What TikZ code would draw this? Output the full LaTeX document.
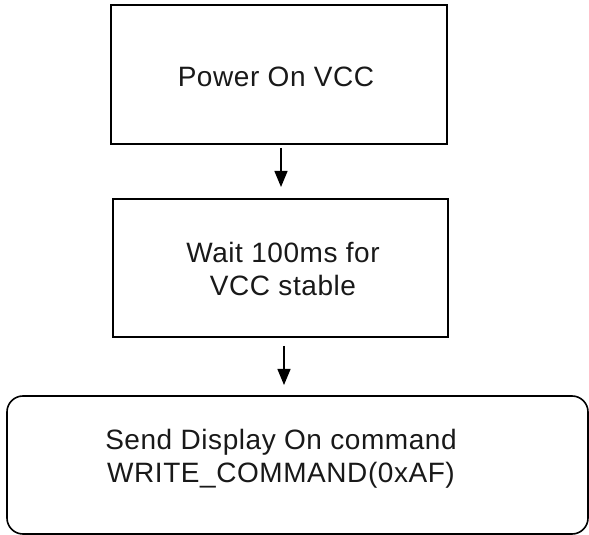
\documentclass[tikz,border=0pt]{standalone}
\usepackage{fontspec}
\setmainfont{Liberation Sans}[LetterSpace=2]
\usetikzlibrary{arrows.meta}
\begin{document}
\begin{tikzpicture}[x=1pt,y=1pt,
  flowbox/.style={draw=black, line width=1.6pt, minimum width=336pt, minimum height=139pt, inner sep=0pt},
  roundbox/.style={draw=black, line width=1.6pt, rounded corners=16pt, minimum width=581pt, minimum height=138pt, inner sep=0pt},
  boxtext/.style={font=\fontsize{28}{33}\selectfont, align=center, inner sep=0pt, text=black!90},
  flowarrow/.style={line width=1.3pt, -{Triangle[length=16pt,width=13pt]}}]
\useasboundingbox (0,0) rectangle (589,535);
\node[flowbox] (b1) at (279,460.5) {};
\node[boxtext] (t1) at (276,458) {Power On VCC};
\node[flowbox, minimum width=335pt, minimum height=138pt] (b2) at (280.5,267) {};
\node[boxtext] (t2) at (283,266) {Wait 100ms for\\VCC stable};
\node[roundbox] (b3) at (297.5,70) {};
\node[boxtext] (t3) at (281,76) {Send Display On command\\WRITE\_COMMAND(0xAF)};
\coordinate (a1s) at (281,387);
\coordinate (a1e) at (281,348);
\coordinate (a2s) at (284,189);
\coordinate (a2e) at (284,150);
\draw[flowarrow] (a1s) -- (a1e);
\draw[flowarrow] (a2s) -- (a2e);
\end{tikzpicture}
\end{document}
